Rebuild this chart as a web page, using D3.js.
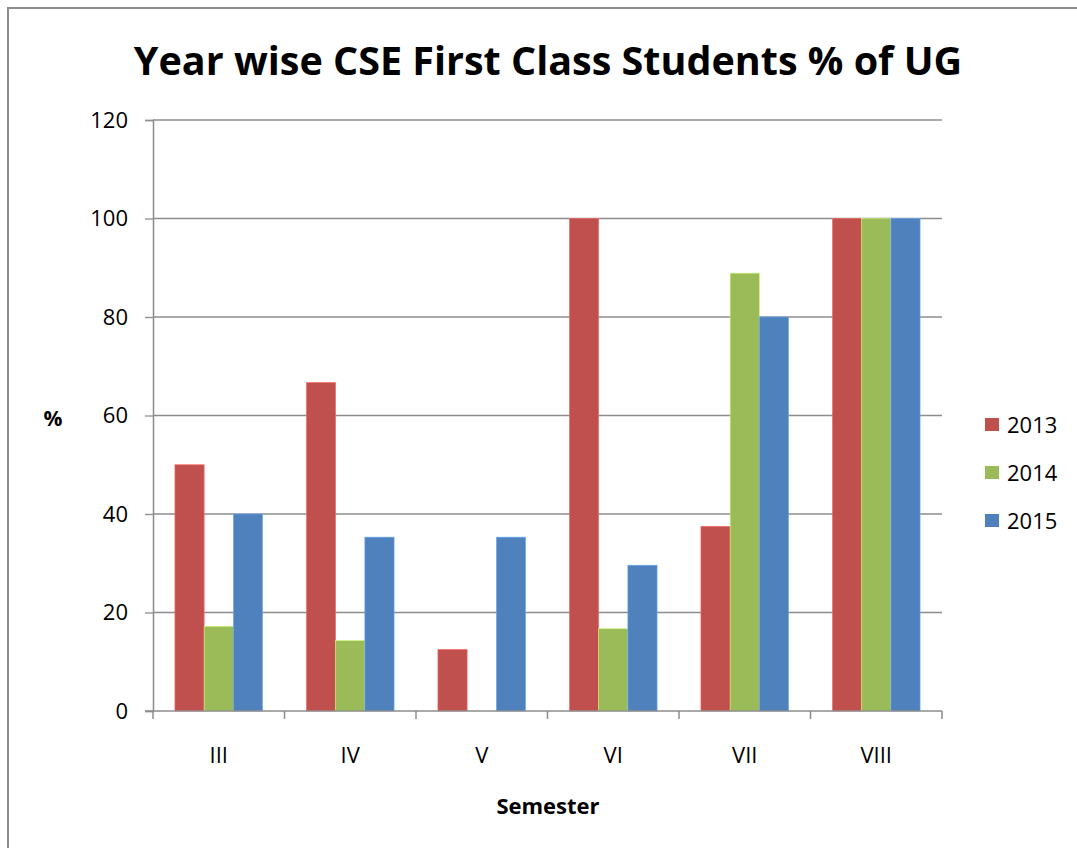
<!DOCTYPE html>
<html>
<head>
<meta charset="utf-8">
<script src="https://cdn.jsdelivr.net/npm/d3@7"></script>
<style>
  body { margin: 0; background: #fff; }
  svg text { font-family: "Open Sans", "Noto Sans", sans-serif; fill: #000; }
</style>
</head>
<body>
<div id="chart"></div>
<script>
// semesters on the x axis
const semesters = ["III", "IV", "V", "VI", "VII", "VIII"];
const years = ["2013", "2014", "2015"];
// % first class per semester, one array per year
const values2013 = [50, 66.7, 12.5, 100, 37.5, 100];
const values2014 = [17.2, 14.3, 0, 16.7, 88.9, 100];
const values2015 = [40, 35.3, 35.3, 29.6, 80, 100];
const yTicks = [0, 20, 40, 60, 80, 100, 120];
const colors = ["#C0504D", "#9BBB59", "#4F81BD"];

const width = 1077, height = 848;
const margin = {top: 120, right: 135, bottom: 137, left: 153};

const svg = d3.select("#chart").append("svg")
    .attr("width", width)
    .attr("height", height);

// outer chart frame
svg.append("rect")
    .attr("x", 8).attr("y", 8)
    .attr("width", 1100).attr("height", 900)
    .attr("fill", "none")
    .attr("stroke", "#8c8c8c")
    .attr("stroke-width", 2);

const x = d3.scaleBand()
    .domain(semesters)
    .range([margin.left, width - margin.right]);

const x1 = d3.scaleBand()
    .domain(years)
    .range([0, x.bandwidth()])
    .paddingOuter(0.75);

const y = d3.scaleLinear()
    .domain([0, 120])
    .range([height - margin.bottom, margin.top]);

// gridlines
svg.append("g")
    .selectAll("line")
    .data(yTicks.slice(1))
    .enter().append("line")
    .attr("x1", margin.left)
    .attr("x2", width - margin.right)
    .attr("y1", d => y(d))
    .attr("y2", d => y(d))
    .attr("stroke", "#8c8c8c")
    .attr("stroke-width", 1.3);

// bars
const series = [values2013, values2014, values2015];
years.forEach((yr, i) => {
    svg.append("g")
        .selectAll("rect")
        .data(semesters.map((s, j) => ({s: s, v: series[i][j]})))
        .enter().append("rect")
        .attr("x", d => x(d.s) + x1(yr))
        .attr("y", d => y(d.v))
        .attr("width", x1.bandwidth())
        .attr("height", d => y(0) - y(d.v))
        .attr("fill", colors[i])
        .attr("stroke", d3.color(colors[i]).brighter(0.8))
        .attr("stroke-width", 0.6);
});

// y axis
const yAxis = svg.append("g")
    .attr("transform", "translate(" + margin.left + ",0)")
    .call(d3.axisLeft(y).tickValues(yTicks).tickSize(8).tickPadding(17));
yAxis.select(".domain").attr("stroke", "#8c8c8c").attr("stroke-width", 1.5);
yAxis.selectAll(".tick line").attr("stroke", "#8c8c8c").attr("stroke-width", 1.3);
yAxis.selectAll("text").style("font-size", "22px");

// x axis with ticks between categories
const xAxis = svg.append("g")
    .attr("transform", "translate(0," + y(0) + ")");
xAxis.append("line")
    .attr("x1", margin.left - 8)
    .attr("x2", width - margin.right)
    .attr("stroke", "#8c8c8c")
    .attr("stroke-width", 1.5);
xAxis.selectAll(".sep")
    .data(semesters.concat(["end"]))
    .enter().append("line")
    .attr("x1", (d, i) => margin.left + i * x.bandwidth())
    .attr("x2", (d, i) => margin.left + i * x.bandwidth())
    .attr("y1", 0).attr("y2", 8)
    .attr("stroke", "#8c8c8c")
    .attr("stroke-width", 1.5);
xAxis.selectAll(".lbl")
    .data(semesters)
    .enter().append("text")
    .attr("x", d => x(d) + x.bandwidth() / 2)
    .attr("y", 52)
    .attr("text-anchor", "middle")
    .style("font-size", "22px")
    .text(d => d);

// titles
svg.append("text")
    .attr("x", 548).attr("y", 75)
    .attr("text-anchor", "middle")
    .style("font-size", "39.5px")
    .style("font-weight", "bold")
    .text("Year wise CSE First Class Students % of UG");

svg.append("text")
    .attr("x", 548).attr("y", 814)
    .attr("text-anchor", "middle")
    .style("font-size", "22px")
    .style("font-weight", "bold")
    .text("Semester");

svg.append("text")
    .attr("x", 53).attr("y", 426)
    .attr("text-anchor", "middle")
    .style("font-size", "21px")
    .style("font-weight", "bold")
    .text("%");

// legend
const legend = svg.append("g")
    .selectAll("g")
    .data(years)
    .enter().append("g")
    .attr("transform", (d, i) => "translate(985," + (418 + i * 48) + ")");
legend.append("rect")
    .attr("width", 14).attr("height", 13)
    .attr("fill", (d, i) => colors[i]);
legend.append("text")
    .attr("x", 22).attr("y", 15)
    .style("font-size", "22px")
    .text(d => d);
</script>
</body>
</html>
